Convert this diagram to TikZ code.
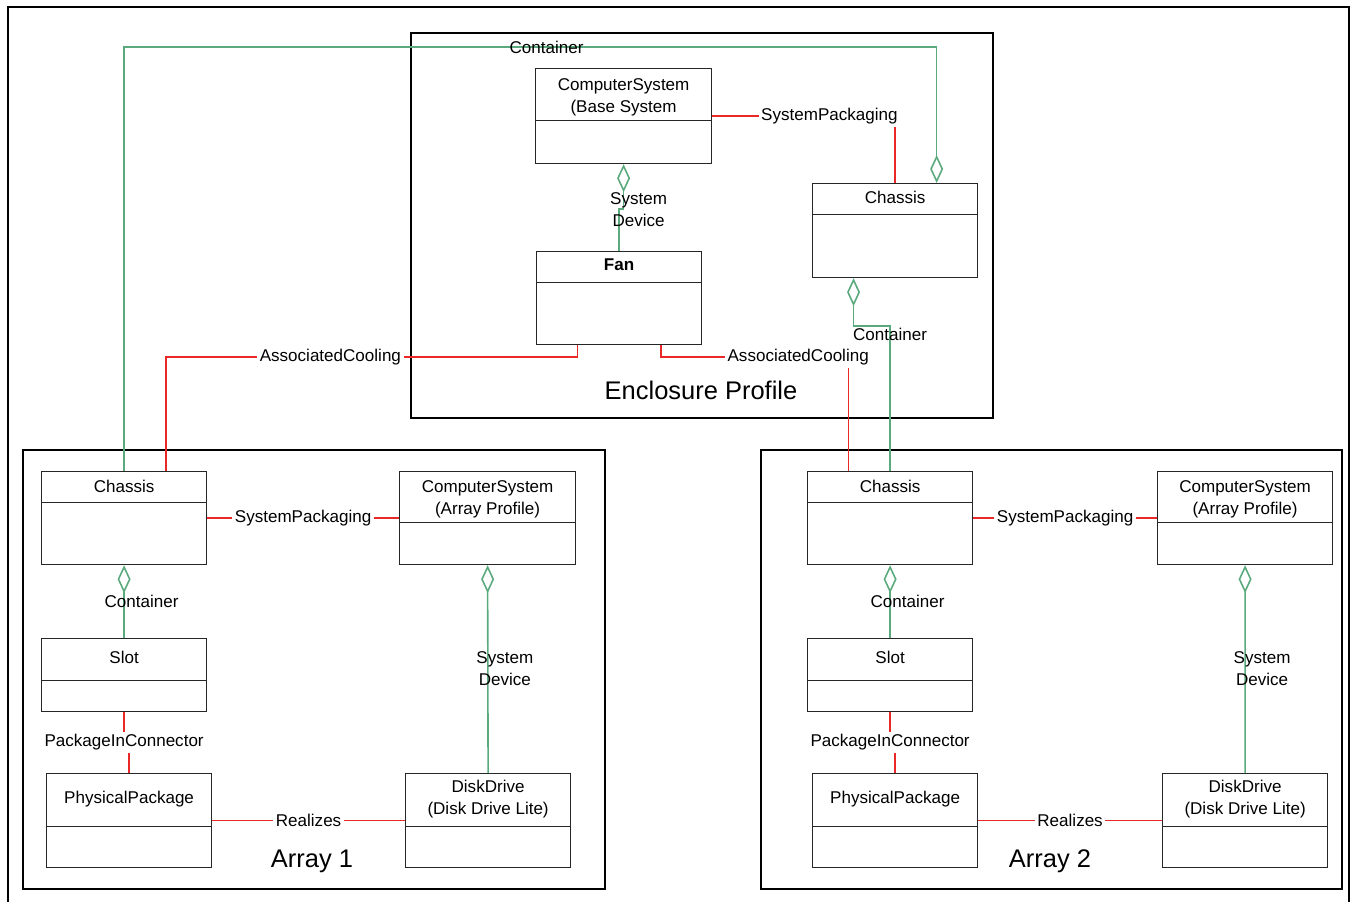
\documentclass[tikz,border=0pt]{standalone}
\usepackage{fontspec}
\setmainfont{Liberation Sans}
\usepackage{tikz}
\usetikzlibrary{arrows.meta,calc}
\definecolor{verdeuml}{RGB}{90,170,125}
\definecolor{rojouml}{RGB}{235,40,40}
\tikzset{
  marco/.style={rectangle, draw=black, line width=1.1pt, anchor=north west, inner sep=0pt},
  clase/.style={rectangle, draw=black!85, fill=white, line width=0.7pt,
                anchor=north west, inner sep=0pt,
                path picture={\draw[black!85, line width=0.7pt]
                  ([yshift=-#1]path picture bounding box.north west) --
                  ([yshift=-#1]path picture bounding box.north east);}},
  tit/.style={align=center, inner sep=0pt},
  grande/.style={font=\fontsize{14.5}{17}\selectfont, inner sep=0pt},
  asoc/.style={draw=rojouml, line width=1pt},
  agg/.style={draw=verdeuml, line width=0.9pt,
              {Diamond[open, length=0.56cm, width=0.26cm]}-},
  etq/.style={fill=white, inner sep=1.5pt, text=black},
  etqv/.style={align=center, inner sep=0pt, text=black}
}
\begin{document}
\begin{tikzpicture}[x=0.02cm, y=-0.02cm, font=\fontsize{9.7}{12.5}\selectfont]
  \useasboundingbox (0,0) rectangle (1353,902);
  \draw[line width=1.6pt] (8,905) |- (1349,7) -- (1349,905);
  % marcos
  \node[marco, minimum width=11.64cm, minimum height=7.7cm] (encl) at (410,32) {};
  \node[marco, minimum width=11.64cm, minimum height=8.78cm] (arr1) at (22,449) {};
  \node[marco, minimum width=11.62cm, minimum height=8.78cm] (arr2) at (760,449) {};
  \node[grande] (enclt) at (701,390) {Enclosure Profile};
  \node[grande] (arr1t) at (312,861) {Array 1};
  \node[grande] (arr2t) at (1050,861) {Array 2};
  % enclosure profile
  \node[clase=1.04cm, minimum width=3.52cm, minimum height=1.9cm] (cs0) at (535,68) {};
  \node[tit] (cs0t) at ($(cs0.north)+(0,29)$) {ComputerSystem\\(Base System};
  \node[clase=0.62cm, minimum width=3.3cm, minimum height=1.88cm] (ch0) at (812,183) {};
  \node[tit] (ch0t) at ($(ch0.north)+(0,14)$) {Chassis};
  \node[clase=0.62cm, minimum width=3.3cm, minimum height=1.86cm] (fan) at (536,251) {};
  \node[tit] (fant) at ($(fan.north)+(0,14)$) {\textbf{Fan}};
  % array 1
  \node[clase=0.62cm, minimum width=3.3cm, minimum height=1.86cm] (ch1) at (41,471) {};
  \node[tit] (ch1t) at ($(ch1.north)+(0,15)$) {Chassis};
  \node[clase=1.02cm, minimum width=3.52cm, minimum height=1.86cm] (cs1) at (399,471) {};
  \node[tit] (cs1t) at ($(cs1.north)+(0,28)$) {ComputerSystem\\(Array Profile)};
  \node[clase=0.84cm, minimum width=3.3cm, minimum height=1.46cm] (slot1) at (41,638) {};
  \node[tit] (slot1t) at ($(slot1.north)+(0,19)$) {Slot};
  \node[clase=1.06cm, minimum width=3.3cm, minimum height=1.88cm] (pp1) at (46,773) {};
  \node[tit] (pp1t) at ($(pp1.north)+(0,26)$) {PhysicalPackage};
  \node[clase=1.06cm, minimum width=3.3cm, minimum height=1.88cm] (dd1) at (405,773) {};
  \node[tit] (dd1t) at ($(dd1.north)+(0,26)$) {DiskDrive\\(Disk Drive Lite)};
  % array 2
  \node[clase=0.62cm, minimum width=3.3cm, minimum height=1.86cm] (ch2) at (807,471) {};
  \node[tit] (ch2t) at ($(ch2.north)+(0,15)$) {Chassis};
  \node[clase=1.02cm, minimum width=3.5cm, minimum height=1.86cm] (cs2) at (1157,471) {};
  \node[tit] (cs2t) at ($(cs2.north)+(0,28)$) {ComputerSystem\\(Array Profile)};
  \node[clase=0.84cm, minimum width=3.3cm, minimum height=1.46cm] (slot2) at (807,638) {};
  \node[tit] (slot2t) at ($(slot2.north)+(0,19)$) {Slot};
  \node[clase=1.06cm, minimum width=3.3cm, minimum height=1.88cm] (pp2) at (812,773) {};
  \node[tit] (pp2t) at ($(pp2.north)+(0,26)$) {PhysicalPackage};
  \node[clase=1.06cm, minimum width=3.3cm, minimum height=1.88cm] (dd2) at (1162,773) {};
  \node[tit] (dd2t) at ($(dd2.north)+(0,26)$) {DiskDrive\\(Disk Drive Lite)};
  % asociaciones del enclosure
  \draw[asoc] (cs0.east) -| node[etq, pos=0.5, anchor=east, xshift=0.12cm] {SystemPackaging} (ch0.north);
  \draw[agg] (cs0.south) -- ++(0,45) node[etqv, xshift=0.3cm] {System\\Device} -| (fan.north);
  \draw[asoc] ($(fan.south west)!0.25!(fan.south east)$) -- ++(0,12)
    -| node[etq, pos=0.3] {AssociatedCooling} ($(ch1.north west)!0.75!(ch1.north east)$);
  \draw[asoc] ($(fan.south west)!0.75!(fan.south east)$) -- ++(0,12)
    -| node[etq, pos=0.366] {AssociatedCooling} ($(ch2.north west)!0.25!(ch2.north east)$);
  \draw[agg] ($(ch0.south west)!0.25!(ch0.south east)$) -- ++(0,48)
    -| node[etqv, pos=0.5, yshift=-0.16cm] {Container} (ch2.north);
  \draw[agg] ($(ch0.north west)!0.75!(ch0.north east)$) -- ++(0,-136)
    -| node[etqv, pos=0.24] {Container} (ch1.north);
  % array 1
  \draw[asoc] (ch1.east) -- node[etq] {SystemPackaging} (cs1.west);
  \draw[agg] (ch1.south) -- node[etqv, xshift=0.35cm] {Container} (slot1.north);
  \draw[agg] (cs1.south) -- node[etqv, xshift=0.34cm] {System\\Device} (dd1.north);
  \draw[asoc] (slot1.south) -- ++(0,30) node[etq] {PackageInConnector} -| (pp1.north);
  \draw[asoc] (pp1.east) -- node[etq] {Realizes} (dd1.west);
  % array 2
  \draw[asoc] (ch2.east) -- node[etq] {SystemPackaging} (cs2.west);
  \draw[agg] (ch2.south) -- node[etqv, xshift=0.35cm] {Container} (slot2.north);
  \draw[agg] (cs2.south) -- node[etqv, xshift=0.34cm] {System\\Device} (dd2.north);
  \draw[asoc] (slot2.south) -- ++(0,30) node[etq] {PackageInConnector} -| (pp2.north);
  \draw[asoc] (pp2.east) -- node[etq] {Realizes} (dd2.west);
\end{tikzpicture}
\end{document}
